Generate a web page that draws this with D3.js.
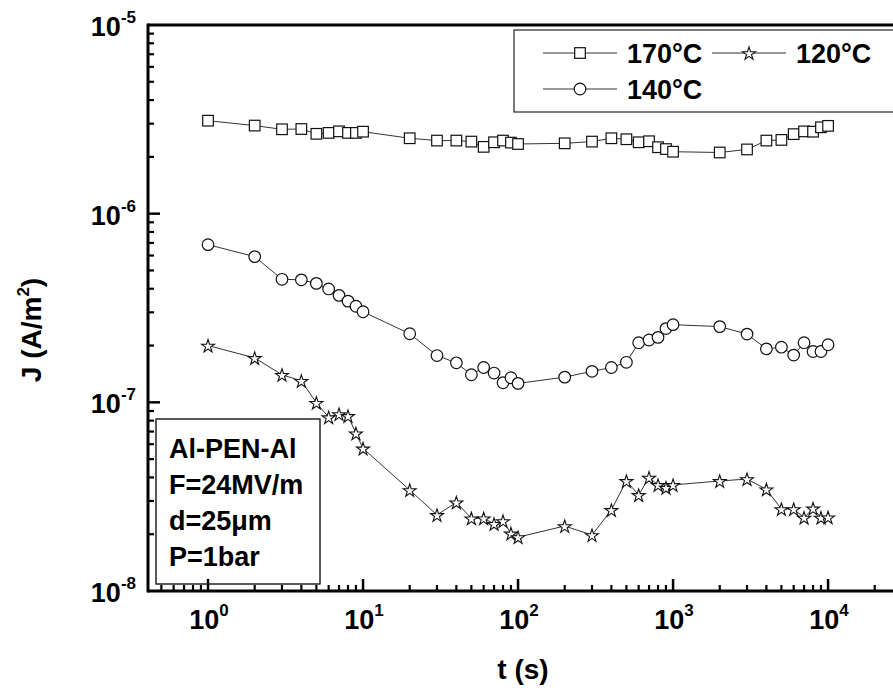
<!DOCTYPE html>
<html>
<head>
<meta charset="utf-8">
<script src="https://cdn.jsdelivr.net/npm/d3@7"></script>
<style>
  body { margin: 0; background: #fff; }
  text { font-family: Arial, "Liberation Sans", sans-serif; font-weight: bold; fill: #000; }
</style>
</head>
<body>
<svg id="chart" width="893" height="691"></svg>
<script>
// time points (s)
const times = [1, 2, 3, 4, 5, 6, 7, 8, 9, 10,
  20, 30, 40, 50, 60, 70, 80, 90, 100,
  200, 300, 400, 500, 600, 700, 800, 900, 1000,
  2000, 3000, 4000, 5000, 6000, 7000, 8000, 9000, 10000];

// J (A/m2) at 170°C
const j170 = [3.11e-6, 2.93e-6, 2.80e-6, 2.81e-6, 2.65e-6, 2.68e-6, 2.73e-6, 2.68e-6, 2.68e-6, 2.72e-6,
  2.51e-6, 2.44e-6, 2.44e-6, 2.41e-6, 2.26e-6, 2.39e-6, 2.44e-6, 2.38e-6, 2.34e-6,
  2.36e-6, 2.41e-6, 2.51e-6, 2.48e-6, 2.39e-6, 2.42e-6, 2.25e-6, 2.20e-6, 2.13e-6,
  2.11e-6, 2.19e-6, 2.44e-6, 2.46e-6, 2.64e-6, 2.73e-6, 2.72e-6, 2.87e-6, 2.92e-6];

// J (A/m2) at 140°C
const j140 = [6.85e-7, 5.92e-7, 4.49e-7, 4.46e-7, 4.27e-7, 3.99e-7, 3.69e-7, 3.44e-7, 3.23e-7, 3.02e-7,
  2.31e-7, 1.77e-7, 1.62e-7, 1.40e-7, 1.53e-7, 1.43e-7, 1.27e-7, 1.35e-7, 1.26e-7,
  1.36e-7, 1.46e-7, 1.53e-7, 1.63e-7, 2.07e-7, 2.14e-7, 2.21e-7, 2.46e-7, 2.58e-7,
  2.52e-7, 2.30e-7, 1.92e-7, 1.96e-7, 1.78e-7, 2.07e-7, 1.86e-7, 1.86e-7, 2.02e-7];

// J (A/m2) at 120°C
const j120 = [2.0e-7, 1.72e-7, 1.40e-7, 1.30e-7, 9.95e-8, 8.34e-8, 8.67e-8, 8.47e-8, 6.85e-8, 5.70e-8,
  3.43e-8, 2.53e-8, 2.95e-8, 2.43e-8, 2.43e-8, 2.27e-8, 2.35e-8, 2.02e-8, 1.93e-8,
  2.21e-8, 1.98e-8, 2.69e-8, 3.83e-8, 3.23e-8, 3.99e-8, 3.65e-8, 3.53e-8, 3.65e-8,
  3.83e-8, 3.92e-8, 3.46e-8, 2.72e-8, 2.72e-8, 2.45e-8, 2.74e-8, 2.45e-8, 2.46e-8];

const xDecades = [0, 1, 2, 3, 4];
const yDecades = [-8, -7, -6, -5];
const infoLines = ["Al-PEN-Al", "F=24MV/m", "d=25\u03bcm", "P=1bar"];

const svg = d3.select("#chart");
const plotLeft = 148, plotTop = 25, plotBottom = 591;

const x = d3.scaleLog().domain([0.41, 4e4]).range([plotLeft, 921.4]);
const y = d3.scaleLog().domain([1e-8, 1e-5]).range([plotBottom, plotTop]);

const series = [
  { name: "170\u00b0C", values: j170, shape: "square" },
  { name: "140\u00b0C", values: j140, shape: "circle" },
  { name: "120\u00b0C", values: j120, shape: "star" }
];

const starPath = d3.symbol().type(d3.symbolStar).size(52)();

function drawMarker(g, shape) {
  if (shape === "square") {
    g.append("rect").attr("x", -5.3).attr("y", -5.3).attr("width", 10.6).attr("height", 10.6)
      .attr("fill", "#fff").attr("stroke", "#111").attr("stroke-width", 1.2);
  } else if (shape === "circle") {
    g.append("circle").attr("r", 5.8)
      .attr("fill", "#fff").attr("stroke", "#111").attr("stroke-width", 1.2);
  } else {
    g.append("path").attr("d", starPath).attr("transform", "translate(0,0.8)")
      .attr("fill", "#fff").attr("stroke", "#111").attr("stroke-width", 1.1)
      .attr("stroke-linejoin", "miter");
  }
}

const line = d3.line().x(d => x(d[0])).y(d => y(d[1]));

const plot = svg.append("g");
series.forEach(s => {
  const pts = times.map((t, i) => [t, s.values[i]]);
  plot.append("path").datum(pts).attr("d", line)
    .attr("fill", "none").attr("stroke", "#333").attr("stroke-width", 1);
  pts.forEach(p => {
    const g = plot.append("g").attr("transform", `translate(${x(p[0])},${y(p[1])})`);
    drawMarker(g, s.shape);
  });
});

// info box
svg.append("rect").attr("x", 156).attr("y", 419).attr("width", 164).attr("height", 165)
  .attr("fill", "#fff").attr("stroke", "#222").attr("stroke-width", 1);
infoLines.forEach((t, i) => {
  svg.append("text").attr("x", 169).attr("y", 458 + i * 36).attr("font-size", 27).text(t);
});

// legend
svg.append("rect").attr("x", 514).attr("y", 30).attr("width", 420).attr("height", 82)
  .attr("fill", "#fff").attr("stroke", "#222").attr("stroke-width", 1.2);
const legendPos = [
  { s: series[0], lx: 543, ty: 63 },
  { s: series[2], lx: 712, ty: 63 },
  { s: series[1], lx: 543, ty: 99 }
];
legendPos.forEach(p => {
  const ly = p.ty - 10;
  svg.append("line").attr("x1", p.lx).attr("x2", p.lx + 74).attr("y1", ly).attr("y2", ly)
    .attr("stroke", "#333").attr("stroke-width", 1);
  const g = svg.append("g").attr("transform", `translate(${p.lx + 37},${ly})`);
  drawMarker(g, p.s.shape);
  svg.append("text").attr("x", p.lx + 84).attr("y", p.ty).attr("font-size", 27).text(p.s.name);
});

// frame
svg.append("line").attr("x1", plotLeft).attr("x2", 893).attr("y1", plotTop).attr("y2", plotTop)
  .attr("stroke", "#000").attr("stroke-width", 3);
svg.append("line").attr("x1", plotLeft).attr("x2", 893).attr("y1", plotBottom).attr("y2", plotBottom)
  .attr("stroke", "#000").attr("stroke-width", 3);
svg.append("line").attr("x1", plotLeft).attr("x2", plotLeft).attr("y1", plotTop - 1.5).attr("y2", plotBottom + 1.5)
  .attr("stroke", "#000").attr("stroke-width", 3);

// y ticks (inward)
const yMinor = [];
yDecades.slice(0, -1).forEach(d => { for (let k = 2; k <= 9; k++) yMinor.push(k * Math.pow(10, d)); });
const yMajor = yDecades.map(d => Math.pow(10, d));
svg.append("g").selectAll("line").data(yMinor).join("line")
  .attr("x1", plotLeft).attr("x2", plotLeft + 6).attr("y1", d => y(d)).attr("y2", d => y(d))
  .attr("stroke", "#000").attr("stroke-width", 2.2);
svg.append("g").selectAll("line").data(yMajor.slice(1, -1)).join("line")
  .attr("x1", plotLeft).attr("x2", plotLeft + 12).attr("y1", d => y(d)).attr("y2", d => y(d))
  .attr("stroke", "#000").attr("stroke-width", 2.5);

// x ticks (inward)
const xMinor = [];
[-1, 0, 1, 2, 3, 4].forEach(d => {
  for (let k = 2; k <= 9; k++) {
    const v = k * Math.pow(10, d);
    if (v >= 0.41 && v <= 4e4) xMinor.push(v);
  }
});
const xMajor = xDecades.map(d => Math.pow(10, d));
svg.append("g").selectAll("line").data(xMinor).join("line")
  .attr("x1", d => x(d)).attr("x2", d => x(d)).attr("y1", plotBottom).attr("y2", plotBottom - 6)
  .attr("stroke", "#000").attr("stroke-width", 2.2);
svg.append("g").selectAll("line").data(xMajor).join("line")
  .attr("x1", d => x(d)).attr("x2", d => x(d)).attr("y1", plotBottom).attr("y2", plotBottom - 12)
  .attr("stroke", "#000").attr("stroke-width", 2.5);

// info box border drawn again over the ticks
svg.append("rect").attr("x", 156).attr("y", 419).attr("width", 164).attr("height", 165)
  .attr("fill", "none").attr("stroke", "#222").attr("stroke-width", 1);

// tick labels
yDecades.forEach(d => {
  const t = svg.append("text").attr("text-anchor", "end").attr("x", 136).attr("y", y(Math.pow(10, d)) + 11)
    .attr("font-size", 27);
  t.append("tspan").text("10");
  t.append("tspan").attr("dy", -13).attr("font-size", 17).text(d);
});
xDecades.forEach(d => {
  const t = svg.append("text").attr("text-anchor", "middle").attr("x", x(Math.pow(10, d)) + 1).attr("y", 629)
    .attr("font-size", 27);
  t.append("tspan").text("10");
  t.append("tspan").attr("dy", -13).attr("font-size", 17).text(d);
});

// axis titles
svg.append("text").attr("x", 523).attr("y", 679).attr("text-anchor", "middle").attr("font-size", 28).text("t (s)");
const yt = svg.append("text").attr("transform", "translate(41,330) rotate(-90)")
  .attr("text-anchor", "middle").attr("font-size", 28);
yt.append("tspan").text("J (A/m");
yt.append("tspan").attr("dy", -12).attr("font-size", 17).text("2");
yt.append("tspan").attr("dy", 12).text(")");
</script>
</body>
</html>
